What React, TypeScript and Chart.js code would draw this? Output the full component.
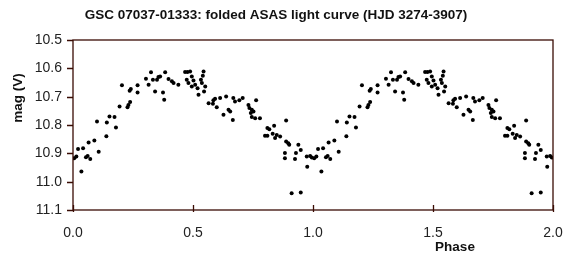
import React, { useEffect, useRef } from "react";
import { Chart, registerables } from "chart.js";

Chart.register(...registerables);

const TITLE = "GSC 07037-01333: folded ASAS light curve (HJD 3274-3907)";
const X_TITLE = "Phase";
const Y_TITLE = "mag (V)";

const X_TICKS = [0, 0.5, 1.0, 1.5, 2.0];
const Y_TICKS = [10.5, 10.6, 10.7, 10.8, 10.9, 11.0, 11.1];

// One folded cycle of observations (phase, V magnitude)
const PHASE = [
  0.005, 0.014, 0.021, 0.035, 0.042, 0.054, 0.061, 0.072, 0.065, 0.089,
  0.100, 0.107, 0.139, 0.141, 0.152, 0.173, 0.179, 0.194, 0.204, 0.227,
  0.231, 0.236, 0.238, 0.241, 0.269, 0.269, 0.304, 0.315, 0.325, 0.333,
  0.342, 0.350, 0.356, 0.363, 0.375, 0.380, 0.384, 0.398, 0.412, 0.419,
  0.439, 0.467, 0.477, 0.488, 0.474, 0.481, 0.495, 0.495, 0.502, 0.509,
  0.519, 0.523, 0.533, 0.537, 0.541, 0.544, 0.546, 0.551, 0.565, 0.583,
  0.585, 0.592, 0.599, 0.613, 0.627, 0.638, 0.648, 0.655, 0.666, 0.668,
  0.675, 0.693, 0.707, 0.731, 0.735, 0.741, 0.745, 0.752, 0.763, 0.745,
  0.759, 0.779, 0.810, 0.818, 0.800, 0.810, 0.832, 0.838, 0.842, 0.849,
  0.863, 0.888, 0.888, 0.897, 0.901, 0.883, 0.883, 0.911, 0.949, 0.925,
  0.929, 0.939, 0.949, 0.974, 0.976, 0.988, 0.995,
];
const MAG = [
  10.917, 10.911, 10.885, 10.964, 10.882, 10.914, 10.909, 10.920, 10.862, 10.855,
  10.788, 10.894, 10.840, 10.791, 10.770, 10.772, 10.809, 10.735, 10.660, 10.737,
  10.729, 10.679, 10.719, 10.673, 10.660, 10.685, 10.637, 10.658, 10.614, 10.640,
  10.682, 10.640, 10.631, 10.629, 10.685, 10.711, 10.614, 10.638, 10.646, 10.652,
  10.658, 10.613, 10.613, 10.611, 10.640, 10.652, 10.664, 10.629, 10.643, 10.658,
  10.670, 10.693, 10.640, 10.652, 10.626, 10.611, 10.682, 10.664, 10.723, 10.725,
  10.713, 10.707, 10.737, 10.705, 10.764, 10.699, 10.746, 10.752, 10.782, 10.705,
  10.717, 10.713, 10.705, 10.729, 10.740, 10.758, 10.746, 10.752, 10.713, 10.772,
  10.776, 10.776, 10.811, 10.815, 10.838, 10.838, 10.831, 10.803, 10.846, 10.835,
  10.841, 10.784, 10.858, 10.864, 10.870, 10.899, 10.917, 11.041, 11.038, 10.920,
  10.899, 10.870, 10.888, 10.911, 10.947, 10.909, 10.915,
];
// The light curve is shown over two cycles (phase 0-1 and 1-2)
const CYCLES = [0, 1];

const FONT = "'Liberation Sans', Arial, sans-serif";
const BORDER = "#3a0c04";

const decorPlugin = {
  id: "decor",
  afterDraw(chart: any) {
    const { ctx, chartArea } = chart;
    const { left, right, top, bottom } = chartArea;
    const xs = chart.scales.x;
    const ys = chart.scales.y;
    ctx.save();
    ctx.strokeStyle = BORDER;
    ctx.lineWidth = 1.3;
    ctx.strokeRect(left, top, right - left, bottom - top);
    ctx.beginPath();
    Y_TICKS.forEach((v) => {
      const y = Math.round(ys.getPixelForValue(v)) + 0.5;
      ctx.moveTo(left - 6, y);
      ctx.lineTo(left, y);
    });
    X_TICKS.forEach((v) => {
      const x = Math.round(xs.getPixelForValue(v)) + 0.5;
      ctx.moveTo(x, bottom - 5);
      ctx.lineTo(x, bottom + 2);
    });
    ctx.stroke();

    ctx.fillStyle = "#111";
    ctx.textAlign = "center";
    ctx.textBaseline = "middle";
    ctx.font = `bold 13.5px ${FONT}`;
    ctx.fillText(TITLE, 276, 15);
    ctx.fillText(X_TITLE, 455, 247);
    ctx.translate(18, 98);
    ctx.rotate(-Math.PI / 2);
    ctx.fillText(Y_TITLE, 0, 0);
    ctx.restore();
  },
};

export default function App() {
  const ref = useRef<HTMLCanvasElement | null>(null);
  useEffect(() => {
    if (!ref.current) return;
    const points: { x: number; y: number }[] = [];
    CYCLES.forEach((c) => {
      PHASE.forEach((p, i) => points.push({ x: p + c, y: MAG[i] }));
    });
    const chart = new Chart(ref.current, {
      type: "scatter",
      data: {
        datasets: [
          {
            data: points,
            backgroundColor: "#000",
            borderColor: "#000",
            pointRadius: 2,
            pointStyle: "circle",
            borderWidth: 0,
          },
        ],
      },
      options: {
        animation: false,
        responsive: false,
        events: [],
        layout: { padding: { top: 40, right: 13, left: 0, bottom: 0 } },
        plugins: { legend: { display: false }, tooltip: { enabled: false }, title: { display: false } },
        scales: {
          x: {
            type: "linear",
            min: 0,
            max: 2,
            afterBuildTicks: (s: any) => {
              s.ticks = X_TICKS.map((v) => ({ value: v }));
            },
            afterFit: (s: any) => {
              s.height = 48;
              s.paddingLeft = 0;
              s.paddingRight = 0;
            },
            grid: { display: false, drawTicks: false },
            border: { display: false },
            ticks: {
              padding: 15,
              color: "#222",
              font: { family: FONT, size: 14 },
              callback: (v: any) => Number(v).toFixed(1),
            },
          },
          y: {
            type: "linear",
            reverse: true,
            min: 10.5,
            max: 11.1,
            afterBuildTicks: (s: any) => {
              s.ticks = Y_TICKS.map((v) => ({ value: v }));
            },
            afterFit: (s: any) => {
              s.width = 73;
              s.paddingTop = 0;
              s.paddingBottom = 0;
            },
            grid: { display: false, drawTicks: false },
            border: { display: false },
            ticks: {
              padding: 11,
              color: "#222",
              font: { family: FONT, size: 14 },
              callback: (v: any) => Number(v).toFixed(1),
            },
          },
        },
      },
      plugins: [decorPlugin],
    });
    return () => chart.destroy();
  }, []);
  return (
    <div style={{ position: "absolute", left: 0, top: 0, width: 566, height: 258, background: "#fff" }}>
      <canvas ref={ref} width={566} height={258} style={{ display: "block", width: 566, height: 258 }} />
    </div>
  );
}
